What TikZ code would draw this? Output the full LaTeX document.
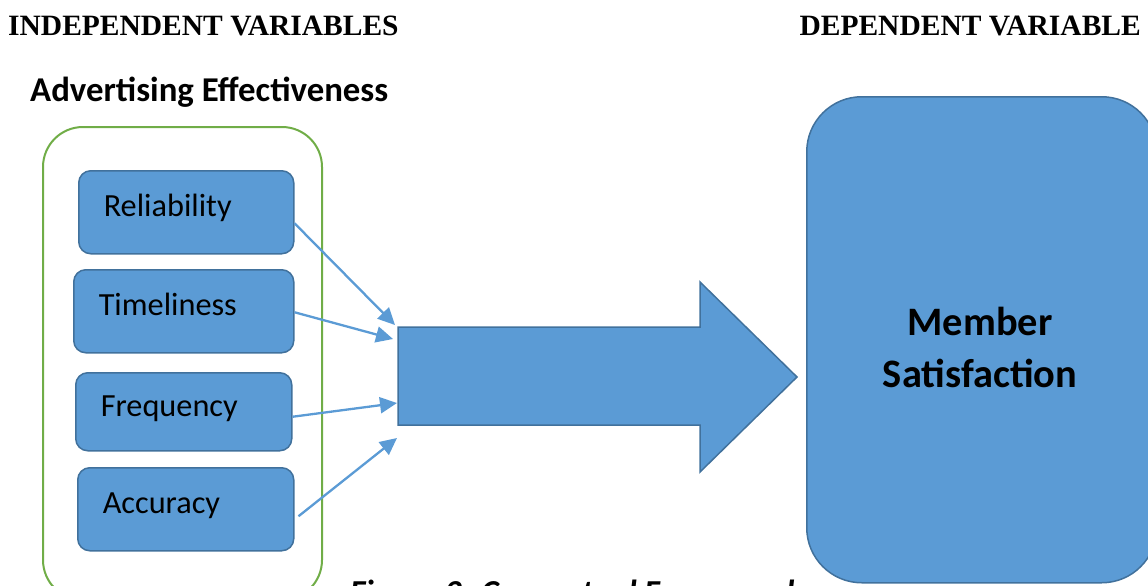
\documentclass[tikz,border=0pt]{standalone}
\usepackage{fontspec}
\setmainfont{Carlito}
\newfontfamily\timesfont{Liberation Serif}
\usetikzlibrary{arrows.meta,calc}
\definecolor{boxblue}{HTML}{5B9BD5}
\definecolor{boxedge}{HTML}{41719C}
\definecolor{framegreen}{HTML}{70AD47}
\begin{document}
\begin{tikzpicture}[x=1pt,y=-1pt,
  varbox/.style={draw=boxedge, fill=boxblue, line width=1.5pt, rounded corners=12pt,
    anchor=north west, inner xsep=25pt, inner ysep=0pt, align=left,
    text height=20pt, text depth=11pt,
    font=\fontsize{32.3}{38}\selectfont},
  link/.style={draw=boxblue, line width=2.3pt, -{Triangle[length=17pt,width=16pt]}},
  heading/.style={font=\timesfont\bfseries\fontsize{29.5}{34}\selectfont, anchor=base west, inner sep=0pt}
]
\useasboundingbox (0,0) rectangle (1148,586);
\clip (0,0) rectangle (1148,586);

\node[heading] (indep) at (8,36) {INDEPENDENT VARIABLES};
\node[heading, anchor=base east] (dep) at (1141,36) {DEPENDENT VARIABLE};
\node[anchor=base west, inner sep=0pt, font=\bfseries\fontsize{34.8}{40}\selectfont] (adv) at (30,101) {Advertising Effectiveness};

\node[anchor=base west, inner sep=0pt, font=\bfseries\itshape\fontsize{33.5}{40}\selectfont] (cap) at (350,603) {Figure 2: Conceptual Framework};

\draw[framegreen, line width=2pt, rounded corners=40pt] (43,127) rectangle (322,600);

\node[varbox, minimum width=215pt, minimum height=83pt, text width=165pt] (rel) at (78,170) {Reliability};
\node[varbox, minimum width=220pt, minimum height=83pt, text width=170pt] (tim) at (73,269) {Timeliness};
\node[varbox, minimum width=216pt, minimum height=78pt, text width=166pt] (fre) at (75,372) {Frequency};
\node[varbox, minimum width=216pt, minimum height=83pt, text width=166pt] (acc) at (77,467) {Accuracy};

\draw[draw=boxedge, fill=boxblue, line width=1.5pt, line join=miter]
  (398,327) -- (700,327) -- (700,282) -- (797,377) -- (700,472) -- (700,425) -- (398,425) -- cycle;

\node[draw=boxedge, fill=boxblue, line width=1.5pt, rounded corners=55pt,
  minimum width=350pt, minimum height=486pt, anchor=north west, inner sep=0pt] (ms) at (806,96) {};
\node[align=center, inner sep=0pt, anchor=base, font=\bfseries\fontsize{40.4}{52}\selectfont] (mstext) at (980,387) {Member\\Satisfaction};

\coordinate (t1) at (395,325);
\coordinate (t2) at (393,339);
\coordinate (t3) at (397,403);
\coordinate (t4) at (397,438);
\draw[link] ([yshift=-11pt]rel.east) -- (t1);
\draw[link] ([yshift=-1pt]tim.east) -- (t2);
\draw[link] ([yshift=-5pt]fre.east) -- (t3);
\draw[link] ([yshift=-7pt,xshift=4pt]acc.east) -- (t4);
\end{tikzpicture}
\end{document}
